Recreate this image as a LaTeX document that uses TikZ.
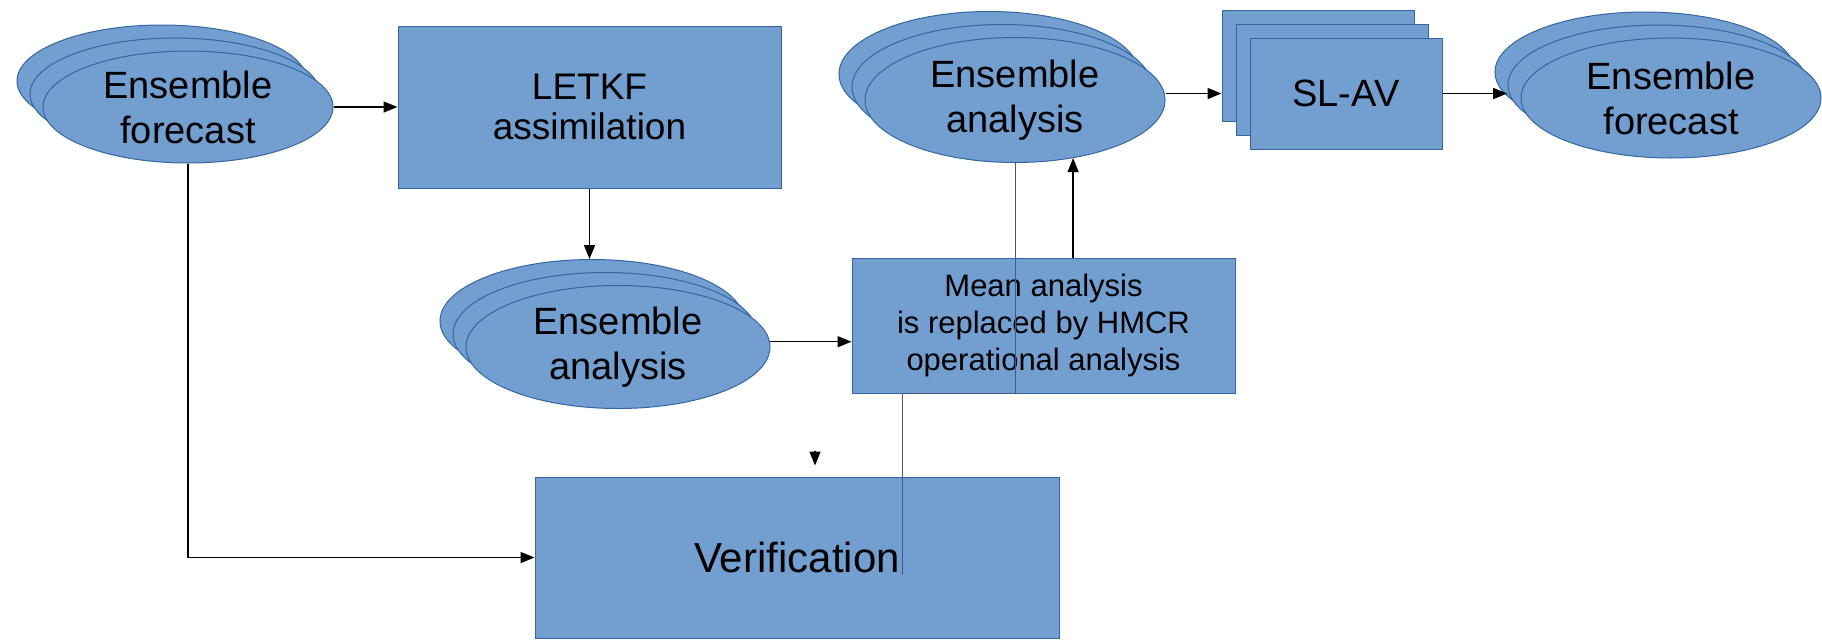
\documentclass[tikz,border=0pt]{standalone}
\usepackage{fontspec}
\setmainfont{Liberation Sans}
\usetikzlibrary{positioning, arrows.meta, calc, shapes.geometric}

\definecolor{fillbl}{HTML}{729FCF}
\definecolor{linebl}{HTML}{3465A4}
\definecolor{wirebl}{HTML}{3C5A8C}

\tikzset{
  ens/.style={ellipse, draw=linebl, fill=fillbl, line width=1pt, minimum width=300pt,
    minimum height=122pt, inner sep=0pt, align=center, font=\fontsize{38}{45}\selectfont},
  blk/.style={rectangle, draw=linebl, fill=fillbl, line width=1pt, inner sep=0pt, align=center},
  arr/.style={-{Triangle[length=14pt,width=11pt]}, line width=1.5pt},
  wire/.style={draw=wirebl, line width=1pt},
}

\begin{document}
\begin{tikzpicture}[x=1pt, y=-1pt]
  \useasboundingbox (0,0) rectangle (1822,640);

  % Ensemble forecast (links)
  \foreach \k in {2,1}
    \node[ens, minimum width=290pt, minimum height=112pt] (efl-\k) at (188-13*\k,107-13*\k) {};
  \node[ens, minimum width=290pt, minimum height=112pt] (efl) at (188,107) {Ensemble\\forecast};

  % LETKF
  \node[blk, minimum width=383pt, minimum height=162pt, font=\fontsize{37}{40}\selectfont]
    (letkf) at (589.5,107) {LETKF\\assimilation};

  % Ensemble analysis (unten)
  \foreach \k in {2,1}
    \node[ens, minimum width=304pt, minimum height=123pt] (ea-\k) at (618-13*\k,347-13*\k) {};
  \node[ens, minimum width=304pt, minimum height=123pt] (ea) at (618,347) {Ensemble\\analysis};

  % Mittelwert-Analyse
  \node[blk, minimum width=383pt, minimum height=135pt, font=\fontsize{31}{37}\selectfont]
    (mean) at (1043.5,325.5) {Mean analysis\\is replaced by HMCR\\operational analysis};

  % Ensemble analysis (oben)
  \foreach \k in {2,1}
    \node[ens, minimum height=125pt] (eat-\k) at (1015-13*\k,100-13*\k) {};
  \node[ens, minimum height=125pt] (eat) at (1015,100) {Ensemble\\analysis};

  % SL-AV
  \foreach \k in {2,1}
    \node[blk, minimum width=192pt, minimum height=111pt] (slav-\k) at (1346-14*\k,93.5-14*\k) {};
  \node[blk, minimum width=192pt, minimum height=111pt, font=\fontsize{38}{45}\selectfont]
    (slav) at (1346,93.5) {SL-AV};

  % Ensemble forecast (rechts)
  \foreach \k in {2,1}
    \node[ens, minimum height=120pt] (efr-\k) at (1671-13*\k,98-13*\k) {};
  \node[ens, minimum height=120pt] (efr) at (1671,98) {Ensemble\\forecast};

  % Verification
  \node[blk, minimum width=524pt, minimum height=161pt, font=\fontsize{42}{48}\selectfont]
    (verif) at (797,557.5) {Verification};

  % Pfeile
  \draw[arr] (efl.east) -- (letkf.west);
  \draw[arr] (letkf.south) -- (letkf.south |- ea-2.north);
  \draw[arr] (ea.2) -- (ea.2 -| mean.west);
  \draw[arr] (mean.north -| eat.-45) -- (eat.-45);
  \draw[arr] (eat.east |- slav.west) -- (slav-2.west |- slav.west);
  \draw[arr] (slav.east) -- (slav.east -| efr-2.190);
  \draw[arr] (efl.south) |- (verif.west);

  % einzelne Pfeilspitze
  \coordinate (tip) at ([xshift=18pt,yshift=11pt]verif.north);
  \draw[arr] ([yshift=15pt]tip) -- (tip);

  % duenne Linie
  \coordinate (wend) at ([xshift=105pt,yshift=-17pt]verif.center);
  \draw[wire] (eat.south) |- (mean.south -| wend) -- (wend);
\end{tikzpicture}
\end{document}
